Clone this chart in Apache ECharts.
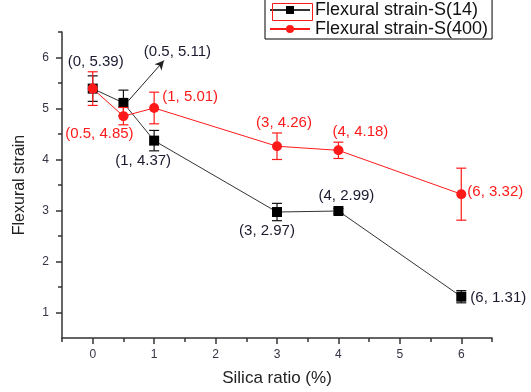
<!DOCTYPE html>
<html>
<head>
<meta charset="utf-8">
<script src="https://cdn.jsdelivr.net/npm/echarts@6/dist/echarts.min.js"></script>
<style>
  html, body { margin: 0; padding: 0; background: #fff; }
  #chart { width: 531px; height: 392px; }
</style>
</head>
<body>
<div id="chart"></div>
<script>
// data
const silica = [0, 0.5, 1, 3, 4, 6]
const strain14 = [5.39, 5.11, 4.37, 2.97, 2.99, 1.31]
const err14 = [0.25, 0.25, 0.2, 0.17, 0.05, 0.12]
const strain400 = [5.39, 4.85, 5.01, 4.26, 4.18, 3.32]
const err400 = [0.33, 0.17, 0.31, 0.26, 0.16, 0.51]
const xTicks = [0, 1, 2, 3, 4, 5, 6]
const yTicks = [1, 2, 3, 4, 5, 6]

// label offsets (px) relative to each point
const offs14 = [[3, -27], [54, -51], [-11, 20], [-10, 19], [8, -15], [37, 1]]
const offs400 = [null, [-24, 18], [36, -11], [7, -23], [22, -18], [34, -2]]

const chart = echarts.init(document.getElementById('chart'))
const font = 'Liberation Sans, Arial, sans-serif'
const black = '#111'
const red = '#ff1a1a'

const fmt = (x, y) => '(' + x + ', ' + y + ')'

const pts = (ys, offs, color) =>
  silica.map((x, i) => {
    const o = offs[i]
    return {
      value: [x, ys[i]],
      label: o
        ? {
            show: true,
            position: 'inside',
            offset: o,
            formatter: fmt(x, ys[i]),
            color: color,
            fontSize: 15,
            fontFamily: font,
          }
        : { show: false },
    }
  })

const errData = (ys, es) => silica.map((x, i) => [x, ys[i] - es[i], ys[i] + es[i]])

const errRender = color => (params, api) => {
  const lo = api.coord([api.value(0), api.value(1)])
  const hi = api.coord([api.value(0), api.value(2)])
  const w = 5
  const st = { stroke: color, lineWidth: 1.2 }
  return {
    type: 'group',
    children: [
      { type: 'line', shape: { x1: hi[0], y1: hi[1], x2: lo[0], y2: lo[1] }, style: st },
      { type: 'line', shape: { x1: hi[0] - w, y1: hi[1], x2: hi[0] + w, y2: hi[1] }, style: st },
      { type: 'line', shape: { x1: lo[0] - w, y1: lo[1], x2: lo[0] + w, y2: lo[1] }, style: st },
    ],
  }
}

const halves = []
for (let v = -0.5; v <= 6.5; v += 1) halves.push(v)
const yHalves = []
for (let v = 1.5; v <= 6.5; v += 1) yHalves.push(v)

const axisLine = { onZero: false, lineStyle: { color: '#333', width: 1.5 } }
const tickStyle = { color: '#333', width: 1.5 }

const option = {
  animation: false,
  backgroundColor: '#fff',
  grid: { left: 62, right: 39, top: 32, bottom: 53 },
  legend: {
    left: 265,
    top: -1,
    orient: 'vertical',
    itemWidth: 40,
    itemHeight: 10,
    itemGap: 1,
    padding: [2, 4, 1, 4],
    borderColor: '#000',
    borderWidth: 1,
    textStyle: { fontSize: 18, fontFamily: font, color: '#111' },
    data: ['Flexural strain-S(14)', 'Flexural strain-S(400)'],
  },
  graphic: [
    {
      type: 'rect',
      left: 270,
      top: 1,
      shape: { width: 40, height: 17 },
      style: { fill: 'none', stroke: red, lineWidth: 1 },
      z: 100,
    },
  ],
  xAxis: [
    {
      type: 'value',
      min: -0.5,
      max: 6.5,
      name: 'Silica ratio (%)',
      nameLocation: 'middle',
      nameGap: 32,
      nameTextStyle: { fontSize: 17, fontFamily: font, color: '#222' },
      axisLine: axisLine,
      axisTick: { show: true, length: 6, customValues: xTicks, lineStyle: tickStyle },
      axisLabel: { customValues: xTicks, fontSize: 12, fontFamily: font, color: '#333344', margin: 11 },
      splitLine: { show: false },
    },
    {
      type: 'value',
      min: -0.5,
      max: 6.5,
      position: 'bottom',
      axisLine: { show: false, onZero: false },
      axisTick: { show: true, length: 4, customValues: halves, lineStyle: tickStyle },
      axisLabel: { show: false },
      splitLine: { show: false },
    },
  ],
  yAxis: [
    {
      type: 'value',
      min: 0.5,
      max: 6.5,
      name: 'Flexural strain',
      nameLocation: 'middle',
      nameGap: 34,
      nameTextStyle: { fontSize: 16, fontFamily: font, color: '#222' },
      axisLine: axisLine,
      axisTick: { show: true, length: 6, customValues: yTicks, lineStyle: tickStyle },
      axisLabel: { customValues: yTicks, fontSize: 12, fontFamily: font, color: '#333344', margin: 13 },
      splitLine: { show: false },
    },
    {
      type: 'value',
      min: 0.5,
      max: 6.5,
      position: 'left',
      axisLine: { show: false, onZero: false },
      axisTick: { show: true, length: 4, customValues: yHalves, lineStyle: tickStyle },
      axisLabel: { show: false },
      splitLine: { show: false },
    },
  ],
  series: [
    {
      type: 'custom',
      name: 'err14',
      renderItem: errRender(black),
      data: errData(strain14, err14),
      z: 2,
      silent: true,
    },
    {
      name: 'Flexural strain-S(14)',
      type: 'line',
      data: pts(strain14, offs14, '#1a1a2e'),
      symbol: 'rect',
      symbolSize: 10,
      itemStyle: { color: '#000' },
      lineStyle: { color: '#333', width: 1 },
      z: 3,
      markLine: {
        silent: true,
        symbol: ['none', 'arrow'],
        symbolSize: [7, 9],
        label: { show: false },
        lineStyle: { color: '#222', width: 1, type: 'solid' },
        data: [[{ coord: [0.58, 5.15] }, { coord: [1.16, 5.94] }]],
      },
    },
    {
      type: 'custom',
      name: 'err400',
      renderItem: errRender(red),
      data: errData(strain400, err400),
      z: 4,
      silent: true,
    },
    {
      name: 'Flexural strain-S(400)',
      type: 'line',
      data: pts(strain400, offs400, red),
      symbol: 'circle',
      symbolSize: 10,
      itemStyle: { color: red },
      lineStyle: { color: red, width: 1 },
      z: 5,
    },
  ],
}

chart.setOption(option)
</script>
</body>
</html>
